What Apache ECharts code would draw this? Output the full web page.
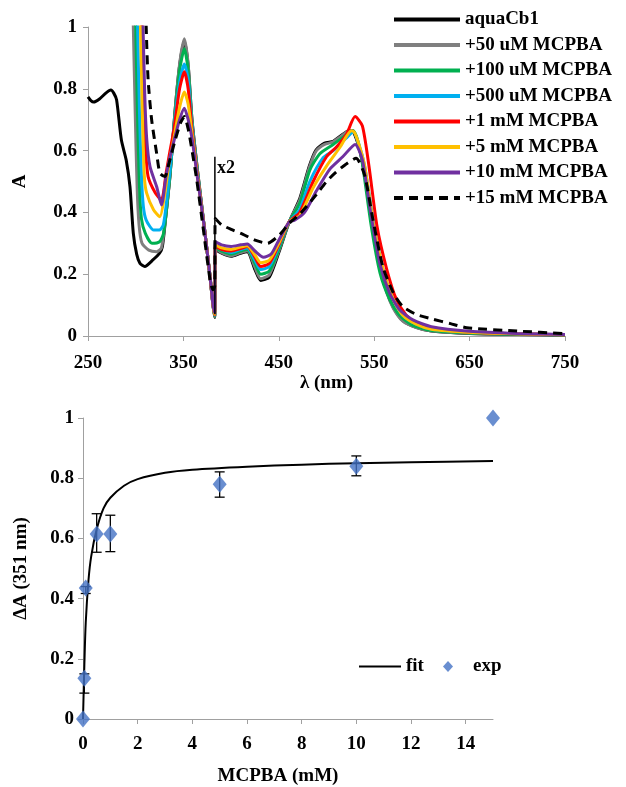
<!DOCTYPE html>
<html>
<head>
<meta charset="utf-8">
<script src="https://cdn.jsdelivr.net/npm/echarts@6/dist/echarts.min.js"></script>
<style>html,body{margin:0;padding:0;background:#fff;}#c{width:626px;height:787px;}</style>
</head>
<body>
<div id="c"></div>
<script>
// ---------- Top panel: spectra (wavelength nm, absorbance) ----------
var aquaCb1 = [[250,0.774],[253,0.762],[256,0.757],[262,0.767],[269,0.787],[274,0.796],[277,0.786],[280,0.764],[285,0.634],[290,0.57],[294,0.483],[297.5,0.332],[301,0.265],[304.5,0.235],[309.5,0.225],[318,0.246],[325,0.268],[328,0.29],[332,0.40],[336,0.52],[341,0.72],[346,0.875],[351,0.955],[355,0.875],[359,0.70],[365,0.53],[372,0.35],[378,0.19],[381,0.10],[382.8,0.06],[383.4,0.28],[390,0.268],[400,0.258],[410,0.268],[417,0.273],[425,0.215],[431,0.18],[440,0.19],[450,0.27],[461,0.37],[472,0.445],[482,0.55],[489,0.602],[498,0.624],[507,0.630],[515,0.648],[524,0.665],[528,0.662],[535,0.60],[542,0.49],[548.5,0.354],[556,0.234],[563,0.148],[570,0.093],[580,0.05],[594,0.028],[610,0.016],[650,0.008],[700,0.005],[750,0.003]];
var uM50 = [[296,1.2],[297.5,1.0],[299.5,0.72],[301.5,0.48],[303.5,0.36],[306.6,0.30],[313.7,0.278],[322,0.273],[327,0.285],[332,0.40],[336,0.52],[341,0.72],[346,0.88],[351,0.962],[355,0.88],[359,0.70],[365,0.53],[372,0.35],[378,0.19],[381,0.10],[382.8,0.062],[383.4,0.283],[390,0.27],[400,0.26],[410,0.27],[417,0.276],[425,0.222],[431,0.185],[440,0.198],[450,0.275],[461,0.37],[472,0.44],[482,0.545],[489,0.598],[498,0.62],[507,0.628],[515,0.646],[524,0.664],[528,0.664],[535,0.60],[542,0.485],[548.5,0.35],[556,0.228],[563,0.142],[570,0.09],[580,0.048],[594,0.027],[610,0.016],[650,0.009],[700,0.006],[750,0.004]];
var uM100 = [[298.5,1.2],[300,1.0],[302,0.70],[304,0.48],[306,0.38],[310,0.333],[317,0.30],[325,0.305],[329,0.33],[333,0.43],[337,0.56],[341,0.71],[346,0.86],[351,0.93],[355,0.86],[359,0.69],[365,0.525],[372,0.35],[378,0.19],[381,0.10],[382.8,0.064],[383.4,0.285],[390,0.275],[400,0.265],[410,0.275],[417,0.28],[425,0.235],[431,0.20],[440,0.21],[450,0.28],[461,0.37],[472,0.43],[482.5,0.537],[493,0.59],[507,0.62],[520.5,0.65],[528,0.664],[533,0.63],[538,0.55],[547,0.354],[556,0.205],[566,0.12],[576.6,0.067],[590,0.035],[610,0.018],[650,0.01],[700,0.006],[750,0.004]];
var uM500 = [[300.5,1.2],[302,1.0],[304,0.72],[306,0.52],[308,0.42],[311,0.375],[318.8,0.343],[325,0.343],[329,0.36],[333,0.45],[337,0.57],[341,0.70],[346,0.82],[351,0.88],[355,0.83],[359,0.68],[365,0.52],[372,0.35],[378,0.19],[381,0.10],[382.8,0.066],[383.4,0.29],[390,0.28],[400,0.27],[410,0.28],[417,0.285],[425,0.245],[431,0.215],[440,0.225],[450,0.29],[461,0.37],[472,0.41],[482.5,0.50],[496.5,0.577],[507,0.60],[520.5,0.64],[528,0.66],[534,0.62],[540,0.55],[550,0.354],[559,0.22],[569.7,0.12],[580,0.067],[594,0.038],[610,0.022],[650,0.012],[700,0.007],[750,0.004]];
var mM1 = [[305,1.2],[306.5,1.0],[308.5,0.75],[310.5,0.60],[313,0.516],[320.6,0.463],[327,0.44],[332,0.53],[336,0.60],[340,0.667],[346,0.80],[351,0.855],[355,0.80],[359,0.67],[365,0.515],[372,0.35],[378,0.19],[381,0.10],[382.8,0.068],[383.4,0.29],[390,0.28],[400,0.275],[410,0.283],[417,0.29],[425,0.255],[431,0.225],[440,0.235],[450,0.295],[461,0.37],[472,0.40],[486,0.50],[500,0.58],[510,0.61],[520.5,0.65],[530,0.71],[537.6,0.68],[544.5,0.55],[553,0.354],[562.8,0.22],[573,0.12],[583.5,0.067],[594,0.04],[610,0.024],[650,0.012],[700,0.007],[750,0.004]];
var mM5 = [[303.5,1.2],[305,1.0],[307,0.72],[309,0.52],[311.4,0.463],[318.8,0.408],[325.3,0.386],[330,0.45],[335,0.56],[340,0.64],[346,0.74],[351,0.79],[355,0.75],[359,0.655],[365,0.51],[372,0.35],[378,0.19],[381,0.10],[382.8,0.07],[383.4,0.295],[390,0.285],[400,0.28],[410,0.288],[417,0.292],[425,0.262],[431,0.237],[440,0.245],[450,0.30],[461,0.37],[472,0.39],[486,0.48],[500,0.55],[514,0.61],[526,0.664],[529,0.66],[534,0.62],[540,0.55],[549.5,0.354],[559,0.22],[569.7,0.12],[580,0.067],[594,0.038],[610,0.022],[650,0.012],[700,0.007],[750,0.004]];
var mM10 = [[306,1.2],[307.7,1.0],[309.5,0.78],[311.5,0.64],[315,0.548],[322,0.483],[327,0.424],[332,0.52],[336,0.58],[340,0.63],[346,0.70],[351,0.737],[355,0.70],[359,0.64],[365,0.505],[372,0.35],[378,0.19],[381,0.10],[382.8,0.075],[383.4,0.305],[390,0.295],[400,0.29],[410,0.295],[417,0.298],[425,0.275],[434,0.255],[442,0.265],[450,0.31],[461,0.37],[466.5,0.375],[477,0.40],[489.5,0.47],[503.5,0.54],[517,0.58],[530,0.62],[537.6,0.57],[547,0.385],[555.8,0.236],[566,0.14],[576.6,0.085],[590.6,0.052],[610,0.03],[650,0.015],[700,0.008],[750,0.005]];
var mM15 = [[309.5,1.2],[311,1.0],[313,0.83],[316.7,0.70],[322,0.59],[325.4,0.527],[330.6,0.516],[335,0.56],[341,0.63],[347,0.69],[351,0.71],[355,0.67],[358,0.62],[364,0.505],[371,0.343],[378,0.18],[381,0.15],[382.8,0.16],[383.4,0.38],[390,0.36],[400,0.345],[412,0.33],[425,0.31],[438,0.30],[450,0.325],[461,0.365],[472,0.395],[482,0.43],[490,0.46],[500,0.50],[510,0.53],[520,0.555],[531,0.575],[540,0.52],[548.5,0.38],[559,0.225],[570,0.14],[580,0.095],[594,0.07],[611,0.055],[630,0.04],[647,0.027],[700,0.016],[750,0.008]];
var x2Marker = [[383,0.07],[383,0.58]];
var seriesNames = ['aquaCb1','+50 uM MCPBA','+100 uM MCPBA','+500 uM MCPBA','+1 mM MCPBA','+5 mM MCPBA','+10 mM MCPBA','+15 mM MCPBA'];
var topXTicks = [250,350,450,550,650,750];

// ---------- Bottom panel: titration ----------
var fitX = [0,0.05,0.1,0.2,0.3,0.5,0.75,1,1.5,2,3,4,6,8,10,12,15];
var fitY = [0,0.18,0.32,0.46,0.54,0.63,0.70,0.735,0.775,0.797,0.818,0.828,0.838,0.845,0.85,0.853,0.857];
var expX = [0,0.05,0.1,0.5,1,5,10,15];
var expY = [0,0.135,0.435,0.615,0.615,0.78,0.84,1.0];
var errLow  = [null,0.086,0.417,0.554,0.556,0.737,0.808,null];
var errHigh = [null,0.15,0.44,0.682,0.677,0.821,0.874,null];
var botXTicks = [0,2,4,6,8,10,12,14];

var FONT = 'Liberation Serif';
var txt = {fontFamily: FONT, fontWeight: 'bold', fontSize: 19, color: '#000'};
var legTxt = {fontFamily: FONT, fontWeight: 'bold', fontSize: 19, lineHeight: 18, color: '#000'};
var colors = ['#000000','#7f7f7f','#00b050','#00b0f0','#ff0000','#ffc000','#7030a0','#000000'];
var specData = [aquaCb1,uM50,uM100,uM500,mM1,mM5,mM10,mM15];

var series = specData.map(function(d,i){
  return {
    name: seriesNames[i], type: 'line', xAxisIndex: 0, yAxisIndex: 0,
    data: d, showSymbol: false, symbol: 'none', smooth: 0.22,
    clip: true, z: i === 0 ? 2 : (i === 7 ? 10 : 3 + i),
    lineStyle: {color: colors[i], width: 3, type: i === 7 ? [9,6] : 'solid'},
    itemStyle: {color: colors[i]}
  };
});
series.push({
  name: 'x2', type: 'line', xAxisIndex: 0, yAxisIndex: 0,
  data: [x2Marker[0], {value: x2Marker[1], label: {show: true, formatter: 'x2', position: 'right', distance: 2, offset: [0, 12], fontFamily: FONT, fontWeight: 'bold', fontSize: 18, color: '#000'}}],
  symbol: 'circle', symbolSize: 0.1, showSymbol: true,
  lineStyle: {color: '#000', width: 1.5}, itemStyle: {color: '#000'}, z: 20, silent: true
});
series.push({
  name: 'fit', type: 'line', xAxisIndex: 1, yAxisIndex: 1,
  data: fitX.map(function(x,i){return [x, fitY[i]];}),
  showSymbol: false, symbol: 'none', smooth: 0.3,
  lineStyle: {color: '#000', width: 2}, itemStyle: {color: '#000'}, z: 3
});
series.push({
  name: 'errbar', type: 'custom', xAxisIndex: 1, yAxisIndex: 1, z: 4, silent: true,
  data: expX.map(function(x,i){return errLow[i] === null ? null : [x, errLow[i], errHigh[i]];}).filter(function(v){return v;}),
  renderItem: function(params, api){
    var x = api.value(0), lo = api.value(1), hi = api.value(2);
    var p1 = api.coord([x, lo]), p2 = api.coord([x, hi]);
    var w = 5, st = {stroke: '#000', lineWidth: 1.3};
    return {type: 'group', children: [
      {type: 'line', shape: {x1: p1[0], y1: p1[1], x2: p2[0], y2: p2[1]}, style: st},
      {type: 'line', shape: {x1: p1[0]-w, y1: p1[1], x2: p1[0]+w, y2: p1[1]}, style: st},
      {type: 'line', shape: {x1: p2[0]-w, y1: p2[1], x2: p2[0]+w, y2: p2[1]}, style: st}
    ]};
  }
});
series.push({
  name: 'exp', type: 'scatter', xAxisIndex: 1, yAxisIndex: 1, z: 6,
  data: expX.map(function(x,i){return [x, expY[i]];}),
  symbol: 'diamond', symbolSize: [14,17], itemStyle: {color: '#4472c4'}
});

var axisLineStyle = {show: true, lineStyle: {color: '#a0a0a0', width: 1}};
var option = {
  animation: false,
  backgroundColor: '#fff',
  grid: [
    {left: 88, top: 27, width: 477, height: 309, containLabel: false},
    {left: 83, top: 418, width: 410, height: 302, containLabel: false}
  ],
  xAxis: [
    {type: 'value', gridIndex: 0, min: 250, max: 750,
     axisLine: axisLineStyle, splitLine: {show: false},
     axisTick: {show: true, inside: false, length: 5, lineStyle: {color: '#a0a0a0'}, customValues: topXTicks},
     axisLabel: Object.assign({margin: 18, customValues: topXTicks}, txt),
     name: 'λ (nm)', nameLocation: 'middle', nameGap: 36, nameTextStyle: txt},
    {type: 'value', gridIndex: 1, min: 0, max: 15,
     axisLine: axisLineStyle, splitLine: {show: false},
     axisTick: {show: true, length: 5, lineStyle: {color: '#a0a0a0'}, customValues: botXTicks},
     axisLabel: Object.assign({margin: 16, customValues: botXTicks}, txt),
     name: 'MCPBA (mM)', nameLocation: 'middle', nameGap: 48, nameTextStyle: Object.assign({padding: [0, 20, 0, 0]}, txt)}
  ],
  yAxis: [
    {type: 'value', gridIndex: 0, min: 0, max: 1, interval: 0.2,
     axisLine: axisLineStyle, splitLine: {show: false},
     axisTick: {show: true, length: 5, lineStyle: {color: '#a0a0a0'}},
     axisLabel: Object.assign({margin: 11}, txt),
     name: 'A', nameLocation: 'middle', nameGap: 58, nameTextStyle: txt},
    {type: 'value', gridIndex: 1, min: 0, max: 1, interval: 0.2,
     axisLine: axisLineStyle, splitLine: {show: false},
     axisTick: {show: true, length: 5, lineStyle: {color: '#a0a0a0'}},
     axisLabel: Object.assign({margin: 9}, txt),
     name: 'ΔA (351 nm)', nameLocation: 'middle', nameGap: 52, nameTextStyle: txt}
  ],
  legend: [
    {data: seriesNames, orient: 'vertical', left: 392, top: 10, padding: 0, itemWidth: 66, itemHeight: 14, itemGap: 6.5,
     textStyle: legTxt, lineStyle: {width: 4}, itemStyle: {opacity: 0}, selectedMode: false},
    {data: [{name: 'fit', itemStyle: {opacity: 0}}], orient: 'horizontal', left: 358, top: 657, padding: 0, itemWidth: 42, itemHeight: 10,
     textStyle: legTxt, selectedMode: false},
    {data: [{name: 'exp', icon: 'diamond'}], orient: 'horizontal', left: 443, top: 657, padding: 0, itemWidth: 10, itemHeight: 11,
     textStyle: Object.assign({padding: [0, 0, 0, 15]}, legTxt), selectedMode: false}
  ],
  series: series
};
var chart = echarts.init(document.getElementById('c'), null, {renderer: 'canvas'});
chart.setOption(option);
</script>
</body>
</html>
